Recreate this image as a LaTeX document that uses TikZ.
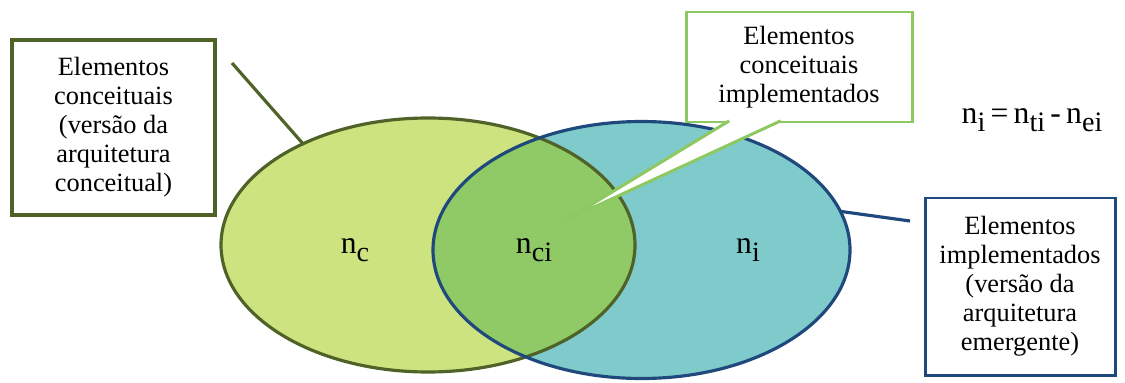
\documentclass[tikz,border=0pt]{standalone}
\usepackage{fontspec}
\setmainfont{Liberation Serif}
\usetikzlibrary{shapes.geometric,calc}

\definecolor{fundoconc}{HTML}{CDE37F}
\definecolor{fundoimpl}{HTML}{7FCBCB}
\definecolor{fundointer}{HTML}{8FCA66}
\definecolor{bordaconc}{HTML}{4F6228}
\definecolor{bordaimpl}{HTML}{1F497D}
\definecolor{bordachamada}{HTML}{8DC860}

\newcommand{\subsc}[1]{\raisebox{-5pt}{\fontsize{16}{16}\selectfont #1}}

\begin{document}
\begin{tikzpicture}[every node/.style={font=\fontsize{15}{16.5}\selectfont},
    caixa/.style={draw, fill=white, align=center, inner sep=0pt},
    conj/.style={ellipse, inner sep=0pt, outer sep=0pt},
    rotulo/.style={anchor=base, inner sep=0pt, font=\fontsize{18}{20}\selectfont}]
    \useasboundingbox (0,0) rectangle (22.5,7.64);

    % conjuntos (elipses)
    \node[conj, fill=fundoconc, minimum width=8.28cm, minimum height=5.08cm] (nc) at (8.56,2.74) {};
    \node[conj, fill=fundoimpl, minimum width=8.34cm, minimum height=5.14cm] (ni) at (12.83,2.64) {};
    \begin{scope}
        \clip (nc.center) ellipse [x radius=4.14cm, y radius=2.54cm];
        \fill[fundointer] (ni.center) ellipse [x radius=4.17cm, y radius=2.57cm];
    \end{scope}
    \draw[bordaconc, line width=1.8pt] (nc.center) ellipse [x radius=4.14cm, y radius=2.54cm];
    \draw[bordaimpl, line width=1.8pt] (ni.center) ellipse [x radius=4.17cm, y radius=2.57cm];

    \node[rotulo] (lc) at (7.1,2.58) {n\subsc{c}};
    \node[rotulo] (lci) at (10.68,2.58) {n\subsc{ci}};
    \node[rotulo] (li) at (14.96,2.58) {n\subsc{i}};

    % caixas de texto
    \node[caixa, draw=bordaconc, line width=2.2pt, minimum width=4.06cm, minimum height=3.5cm] (bconc) at (2.27,5.09)
        {Elementos\\conceituais\\(versão da\\arquitetura\\conceitual)};
    \node[caixa, draw=bordachamada, line width=1.7pt, minimum width=4.52cm, minimum height=2.2cm] (bimpl) at (15.98,6.3)
        {Elementos\\conceituais\\implementados};
    \node[caixa, draw=bordaimpl, line width=1.7pt, minimum width=3.8cm, minimum height=3.54cm] (bemer) at (20.4,1.91)
        {Elementos\\implementados\\(versão da\\arquitetura\\emergente)};

    % ponteiro da chamada
    \coordinate (ponta) at (11.32,3.24);
    \coordinate (wa) at ($(bimpl.south west)!0.195!(bimpl.south east) + (0,1.5pt)$);
    \coordinate (wb) at ($(bimpl.south west)!0.42!(bimpl.south east) + (0,1.5pt)$);
    \fill[white] (wa) -- (ponta) -- (wb) -- cycle;
    \draw[bordachamada, line width=1.7pt] (wa) -- (ponta) -- (wb);

    % linhas de ligacao
    \coordinate (pc) at (4.64,6.38);
    \coordinate (pi) at (18.2,3.22);
    \draw[bordaconc, line width=1.8pt] (pc) -- (nc.141);
    \draw[bordaimpl, line width=1.8pt] (ni.11) -- (pi);

    \node[rotulo] (form) at (20.64,5.18) {n\subsc{i}\,=\,n\subsc{ti}\,-\,n\subsc{ei}};
\end{tikzpicture}
\end{document}
